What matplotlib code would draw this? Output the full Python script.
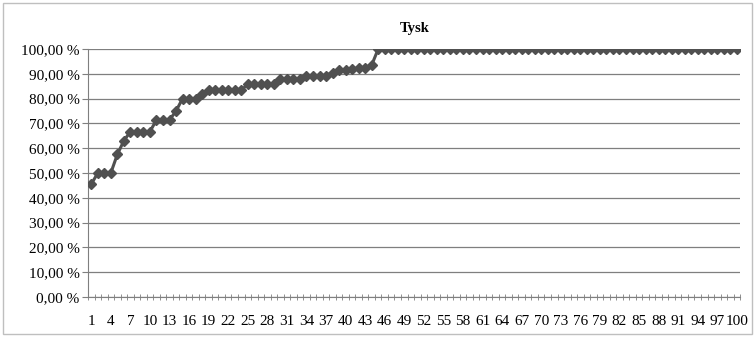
import numpy as np
import matplotlib.pyplot as plt
from matplotlib.ticker import FuncFormatter

# cumulative share per item (percent)
head = [45.5, 50.0, 50.0, 50.0, 57.5, 63.0, 66.7, 66.7, 66.7, 66.7,
        71.4, 71.4, 71.4, 75.0, 80.0, 80.0, 80.0, 82.0, 83.5, 83.5,
        83.5, 83.5, 83.5, 83.5, 85.7, 85.7, 85.7, 85.7, 85.7, 87.8,
        87.8, 87.8, 87.8, 89.3, 89.3, 89.3, 89.3, 90.5, 91.5, 91.5,
        92.0, 92.3, 92.5, 93.5]
values = head + [100.0] * (100 - len(head))
items = np.arange(1, len(values) + 1)
xlabels = list(range(1, 101, 3))
title = "Tysk"

plt.rcParams['font.family'] = ['Liberation Serif', 'DejaVu Serif']

fig = plt.figure(figsize=(7.56, 3.38), dpi=100)
fig.patch.set_facecolor('white')
border = plt.Rectangle((0.004, 0.012), 0.991, 0.978, transform=fig.transFigure,
                       fill=False, edgecolor='#bfbfbf', linewidth=1.0)
fig.patches.append(border)

ax = fig.add_axes([0.1164, 0.1213, 0.8626, 0.7337])
ax.plot(items, np.array(values) / 100, color='#505050', linewidth=2.2,
        marker='D', markersize=4.8, markerfacecolor='#505050',
        markeredgecolor='#505050', zorder=3)

ax.set_xlim(0.5, 100.5)
ax.set_ylim(0, 1.0)
ax.set_yticks(np.arange(0, 1.01, 0.1))
ax.yaxis.set_major_formatter(FuncFormatter(lambda v, p: f"{v*100:.2f}".replace('.', ',') + " %"))
ax.grid(axis='y', color='#7f7f7f', linewidth=0.9)
ax.set_axisbelow(True)

ax.set_xticks(xlabels)
ax.set_xticklabels([str(v) for v in xlabels])
ax.set_xticks(np.arange(0.5, 101, 1), minor=True)
ax.tick_params(axis='x', which='major', length=0, pad=13, labelsize=11)
ax.tick_params(axis='x', which='minor', direction='inout', length=4, color='#7f7f7f')
ax.tick_params(axis='y', direction='out', length=4, color='#7f7f7f', labelsize=11, pad=2)

for side in ['top', 'right']:
    ax.spines[side].set_visible(False)
ax.spines['left'].set_color('#7f7f7f')
ax.spines['bottom'].set_color('#7f7f7f')

fig.text(0.548, 0.915, title, ha='center', va='center', fontsize=10.5, fontweight='bold')

fig.savefig('out.png', dpi=100)
